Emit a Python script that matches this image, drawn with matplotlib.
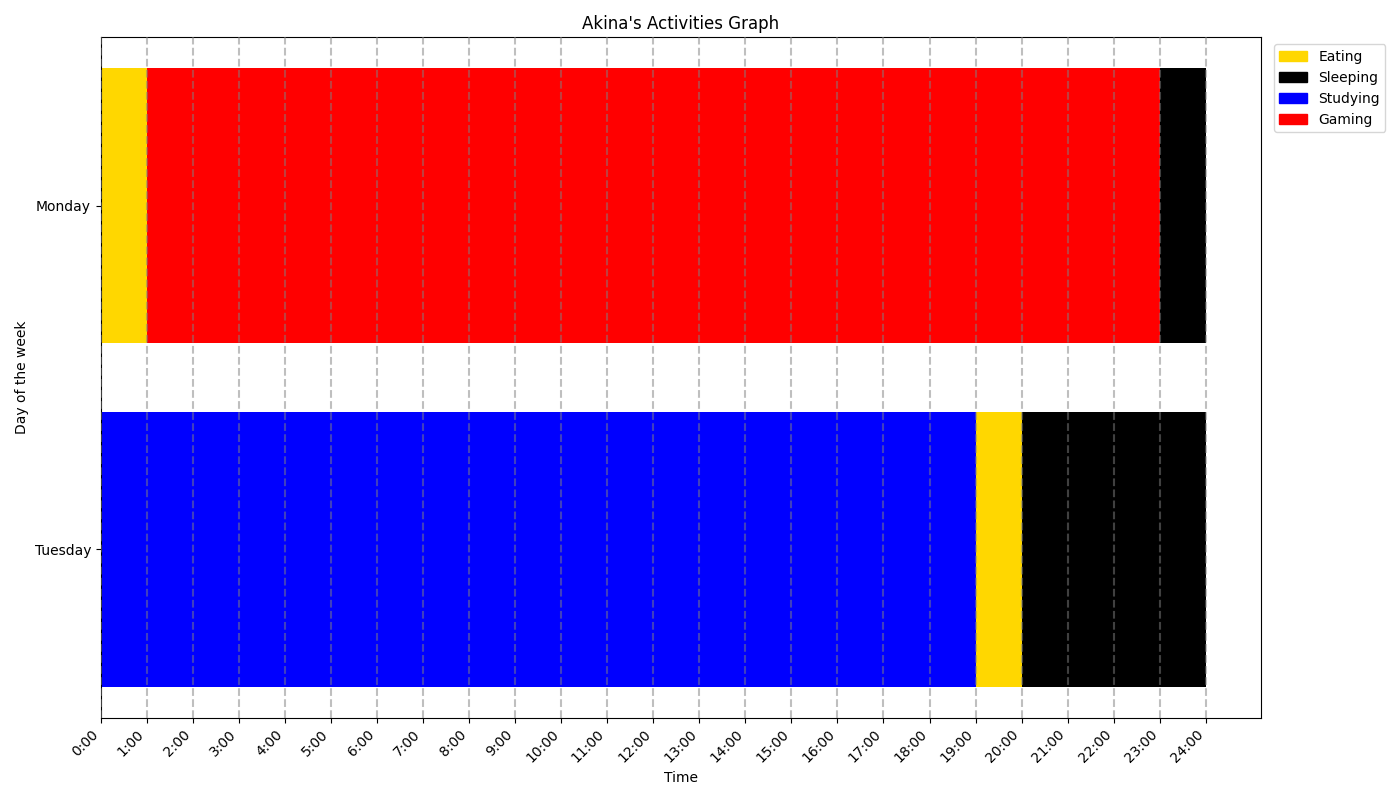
import matplotlib
matplotlib.use("Agg")
import matplotlib.pyplot as plt
from matplotlib.patches import Patch

days = ["Monday", "Tuesday"]
monday_acts = ["Eating", "Gaming", "Sleeping"]
monday_start = [0, 1, 23]
monday_dur = [1, 22, 1]
tuesday_acts = ["Studying", "Eating", "Sleeping"]
tuesday_start = [0, 19, 20]
tuesday_dur = [19, 1, 4]
activities = ["Eating", "Sleeping", "Studying", "Gaming"]
colors = {"Eating": "gold", "Sleeping": "black", "Studying": "blue", "Gaming": "red"}
hours = list(range(25))
hour_labels = [f"{h}:00" for h in hours]

fig, ax = plt.subplots(figsize=(14, 8), dpi=100)
for i, (acts, st, du) in enumerate([(monday_acts, monday_start, monday_dur),
                                    (tuesday_acts, tuesday_start, tuesday_dur)]):
    ax.barh([i]*len(acts), du, left=st, height=0.8, color=[colors[a] for a in acts])
ax.set_yticks(range(len(days)))
ax.set_yticklabels(days)
ax.invert_yaxis()
ax.set_xticks(hours)
ax.set_xticklabels(hour_labels, rotation=45, ha="right")
ax.set_xlim(left=0)
for h in hours:
    ax.axvline(h, color="gray", linestyle="--", linewidth=1.5, alpha=0.5, zorder=3)
ax.set_xlabel("Time")
ax.set_ylabel("Day of the week")
ax.set_title("Akina's Activities Graph")
ax.legend(handles=[Patch(color=colors[a], label=a) for a in activities],
          loc="upper left", bbox_to_anchor=(1.005, 1))
fig.tight_layout()
fig.savefig("out.png")
